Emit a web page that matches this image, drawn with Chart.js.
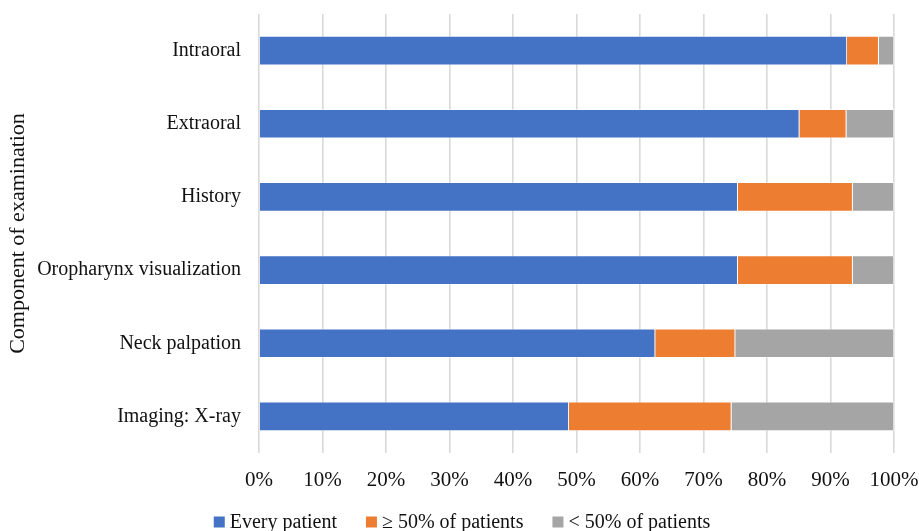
<!DOCTYPE html>
<html>
<head>
<meta charset="utf-8">
<script src="https://cdn.jsdelivr.net/npm/chart.js@4.4.0/dist/chart.umd.min.js"></script>
<style>
html,body{margin:0;padding:0;background:#fff;}
#wrap{width:919px;height:531px;position:relative;}
</style>
</head>
<body>
<div id="wrap"><canvas id="c" width="919" height="531"></canvas></div>
<script>
const categories = ["Intraoral", "Extraoral", "History", "Oropharynx visualization", "Neck palpation", "Imaging: X-ray"];
const everyPatient = [92.6, 85.1, 75.4, 75.4, 62.4, 48.8];
const over50 = [5.0, 7.4, 18.1, 18.1, 12.6, 25.6];
const under50 = [2.4, 7.5, 6.5, 6.5, 25.0, 25.6];
const xTicks = [0, 10, 20, 30, 40, 50, 60, 70, 80, 90, 100];
const seriesNames = ["Every patient", "\u2265 50% of patients", "< 50% of patients"];
const colors = ["#4472C4", "#ED7D31", "#A5A5A5"];

const FONT = "'Liberation Serif', 'Times New Roman', serif";

// Simple bottom legend drawn from the chart's own datasets
const bottomLegend = {
  id: 'bottomLegend',
  afterDraw(chart) {
    const ctx = chart.ctx;
    const ds = chart.data.datasets;
    const box = 11, gapText = 5, gapItem = 29;
    ctx.save();
    ctx.font = '20px ' + FONT;
    const widths = ds.map(d => box + gapText + ctx.measureText(d.label).width);
    const total = widths.reduce((a, b) => a + b, 0) + gapItem * (ds.length - 1);
    let x = 462 - total / 2;
    const cy = 522;
    ds.forEach((d, i) => {
      ctx.fillStyle = d.backgroundColor;
      ctx.fillRect(x, cy - box / 2, box, box);
      ctx.fillStyle = '#111';
      ctx.textBaseline = 'middle';
      ctx.textAlign = 'left';
      ctx.fillText(d.label, x + box + gapText, cy + 1);
      x += widths[i] + gapItem;
    });
    ctx.restore();
  }
};

new Chart(document.getElementById('c'), {
  type: 'bar',
  data: {
    labels: categories,
    datasets: [everyPatient, over50, under50].map((d, i) => ({
      label: seriesNames[i],
      data: d,
      backgroundColor: colors[i],
      borderColor: 'rgba(255,255,255,0.55)',
      borderWidth: 0.8,
      barPercentage: 0.4,
      categoryPercentage: 1.0
    }))
  },
  plugins: [bottomLegend],
  options: {
    indexAxis: 'y',
    responsive: false,
    animation: false,
    layout: { padding: { top: 14, right: 25, left: 0, bottom: 33 } },
    plugins: {
      legend: { display: false },
      tooltip: { enabled: false }
    },
    scales: {
      x: {
        stacked: true,
        min: 0, max: 100,
        afterBuildTicks: (s) => { s.ticks = xTicks.map(v => ({ value: v })); },
        afterFit: (s) => { s.height = 45; s.paddingLeft = 0; s.paddingRight = 0; },
        ticks: {
          padding: 15,
          color: '#111',
          font: { family: FONT, size: 21 },
          callback: (v) => v + '%'
        },
        grid: { color: '#d9d9d9', lineWidth: 1.6, drawTicks: false },
        border: { display: false }
      },
      y: {
        stacked: true,
        afterFit: (s) => { s.width = 259; s.paddingTop = 0; s.paddingBottom = 0; },
        ticks: {
          padding: 18,
          color: '#111',
          font: { family: FONT, size: 20 }
        },
        grid: { display: false, drawTicks: false },
        border: { display: false },
        title: {
          display: true,
          text: 'Component of examination',
          color: '#111',
          font: { family: FONT, size: 22 },
          padding: { top: 5, bottom: 0 }
        }
      }
    }
  }
});
</script>
</body>
</html>
